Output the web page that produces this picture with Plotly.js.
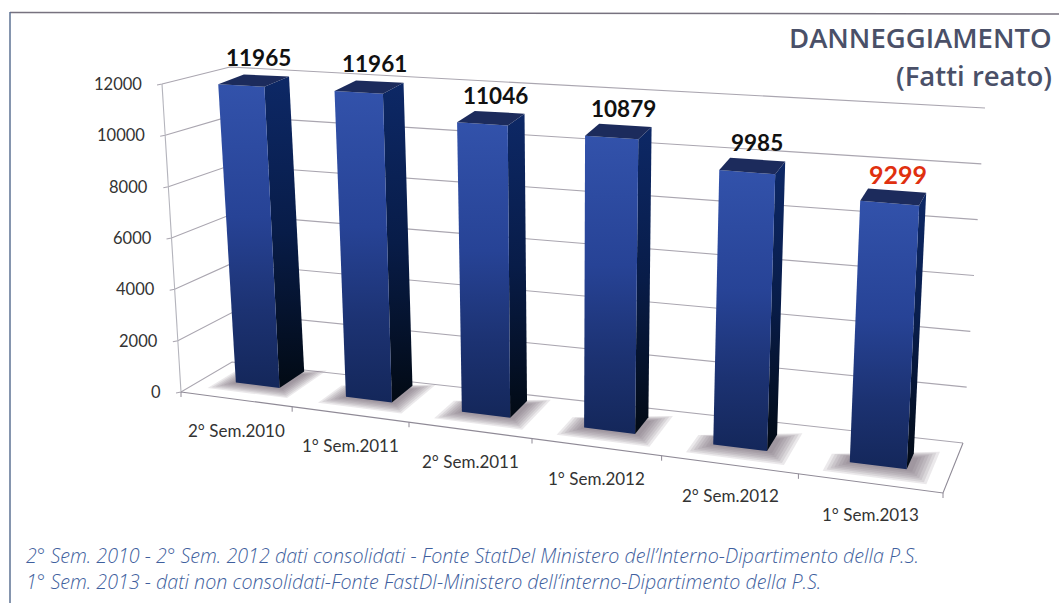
<!DOCTYPE html>
<html>
<head>
<meta charset="utf-8">
<script src="https://cdn.plot.ly/plotly-3.0.1.min.js"></script>
<style>html,body{margin:0;padding:0;background:#fff}</style>
</head>
<body>
<div id="chart" style="width:1059px;height:603px"></div>
<script>
const categories = ["2° Sem.2010","1° Sem.2011","2° Sem.2011","1° Sem.2012","2° Sem.2012","1° Sem.2013"];
const values = [11965,11961,11046,10879,9985,9299];
const yTicks = [0,2000,4000,6000,8000,10000,12000];
const titleLines = ["DANNEGGIAMENTO","(Fatti reato)"];
const footnotes = [
  "2° Sem. 2010 - 2° Sem. 2012 dati consolidati - Fonte StatDel Ministero dell’Interno-Dipartimento della P.S.",
  "1° Sem. 2013 - dati non consolidati-Fonte FastDI-Ministero dell’interno-Dipartimento della P.S."
];

/* perspective projection of the chart box onto the picture plane */
const lerp = (a,b,t)=>a+(b-a)*t;
function tOf(u){const p=u/6;return p*0.854/(1-0.146*p);}
function floorPt(u,w){
  const t=tOf(u);
  const fx=181+762*t, fy=392+101*t, bx=232+731*t, by=362+81*t;
  return [lerp(fx,bx,w),lerp(fy,by,w)];
}
function project(u,w,v){
  const f=floorPt(u,w);
  const k=0.02476+0.00062*u-0.001*(w-0.43);
  const lean=-0.00163+0.00052*u;
  return [f[0]+lean*v,f[1]-k*v];
}
/* wall edges */
const wallEdges={
  front:[[181,392],[162,84]],
  left:[[232,362],[230,67]],
  right:[[963,443],[985,108]]
};
function wall(edge,v){
  const e=wallEdges[edge],t=v/12000;
  return [lerp(e[0][0],e[1][0],t),lerp(e[0][1],e[1][1],t)];
}
function poly(pts,extra){
  const c=pts.concat([pts[0]]);
  return Object.assign({x:c.map(p=>p[0]),y:c.map(p=>p[1]),type:'scatter',mode:'none',fill:'toself',hoverinfo:'skip',showlegend:false},extra);
}
function line(pts,color,width){
  return {x:pts.map(p=>p[0]),y:pts.map(p=>p[1]),type:'scatter',mode:'lines',line:{color:color,width:width||1},hoverinfo:'skip',showlegend:false};
}
const gridColor='#aaa6b0';
const traces=[];
yTicks.forEach(v=>{
  const a=wall('front',v),b=wall('left',v),c=wall('right',v);
  traces.push(line([[a[0]-5,a[1]+1],a,b,c],gridColor,1.1));
});
traces.push(line([wall('front',0),wall('front',12000)],'#b4b4bc',1.1));
const fr=[943,493];
traces.push(line([wall('front',0),fr,wall('right',0)],'#8f8a96',1.1));
for(let i=0;i<=6;i++){
  const p=floorPt(i,0);
  traces.push(line([p,[p[0],p[1]+5]],'#8f8a96',1));
}
const anns=[];
const bars=categories.map((c,i)=>({i:i,u0:i+0.3,u1:i+0.7,wf:0.445-0.016*i,wb:0.96-0.054*i,v:values[i]}));
/* soft contact shadows */
bars.forEach(b=>{
  for(let n=7;n>=1;n--){
    const f=n/7,du=0.15*f,dwf=0.24*f,dwb=0.3*f;
    traces.push(poly([
      floorPt(b.u0-du,b.wf-dwf),floorPt(b.u1+du+0.02,b.wf-dwf),
      floorPt(b.u1+du+0.02,b.wb+dwb*0.3-0.1*(1-f)),floorPt(b.u0-du,b.wb-0.2)
    ],{fillcolor:'rgba(110,100,115,0.14)'}));
  }
});
bars.forEach(b=>{
  const topFL=project(b.u0,b.wf,b.v),topFR=project(b.u1,b.wf,b.v),
        topBR=project(b.u1,b.wb,b.v),topBL=project(b.u0,b.wb,b.v),
        botFL=project(b.u0,b.wf,0),botFR=project(b.u1,b.wf,0),botBR=project(b.u1,b.wb,0);
  const yTop=Math.min(topFL[1],topBR[1]),yBot=Math.max(botFL[1],botFR[1]);
  traces.push(poly([topFR,topBR,botBR,botFR],{fillgradient:{type:'vertical',start:yTop,stop:yBot,
    colorscale:[[0,'#0d2866'],[0.5,'#081c48'],[1,'#020a14']]}}));
  traces.push(poly([topFL,topFR,botFR,botFL],{fillgradient:{type:'vertical',start:yTop,stop:yBot,
    colorscale:[[0,'#3353ac'],[0.45,'#274396'],[0.75,'#1c3272'],[1,'#14275a']]}}));
  traces.push(poly([topFL,topFR,topBR,topBL],{fillcolor:'#1c2b5c'}));
  const c=project(b.i+0.5,(b.wf+b.wb)/2,b.v);
  const red=b.i===5;
  anns.push({x:c[0]+5,y:c[1]-23,xref:'x',yref:'y',text:'<b>'+b.v+'</b>',showarrow:false,xanchor:'center',yanchor:'middle',
    font:{family:'Lato, sans-serif',size:red?25:22.5,color:red?'#e0300f':'#111'}});
  const g=floorPt(b.i+0.5,0);
  anns.push({x:g[0]+1,y:g[1]+31,xref:'x',yref:'y',text:categories[b.i],showarrow:false,xanchor:'center',yanchor:'middle',
    font:{family:'Lato, sans-serif',size:17,color:'#333'}});
});
yTicks.forEach(v=>{
  const p=wall('front',v);
  anns.push({x:p[0]-18,y:p[1],xref:'x',yref:'y',text:String(v),showarrow:false,xanchor:'right',yanchor:'middle',
    font:{family:'Lato, sans-serif',size:16.5,color:'#333'}});
});
titleLines.forEach((t,i)=>{
  anns.push({x:1054,y:[37,75][i],xref:'x',yref:'y',text:t,showarrow:false,xanchor:'right',yanchor:'middle',
    font:{family:'"Open Sans", sans-serif',size:27.5,color:'#4a5068',weight:600}});
});
footnotes.forEach((t,i)=>{
  anns.push({x:24,y:[555,581][i],xref:'x',yref:'y',text:'<i>'+t+'</i>',showarrow:false,xanchor:'left',yanchor:'middle',
    font:{family:'"Open Sans", sans-serif',size:19.7,color:'#3f5f9e',weight:300}});
});
const layout={
  width:1059,height:603,margin:{l:0,r:0,t:0,b:0},paper_bgcolor:'#fff',plot_bgcolor:'#fff',showlegend:false,
  xaxis:{range:[0,1059],visible:false,fixedrange:true},
  yaxis:{range:[603,0],visible:false,fixedrange:true},
  annotations:anns,
  shapes:[
    {type:'line',xref:'x',yref:'y',x0:10,y0:12.5,x1:1059,y1:14,line:{color:'#77727f',width:1.5}},
    {type:'line',xref:'x',yref:'y',x0:10,y0:12,x1:10,y1:603,line:{color:'#5d7293',width:1.5}}
  ]
};
Plotly.newPlot('chart',traces,layout,{displayModeBar:false,staticPlot:true});
</script>
</body>
</html>
